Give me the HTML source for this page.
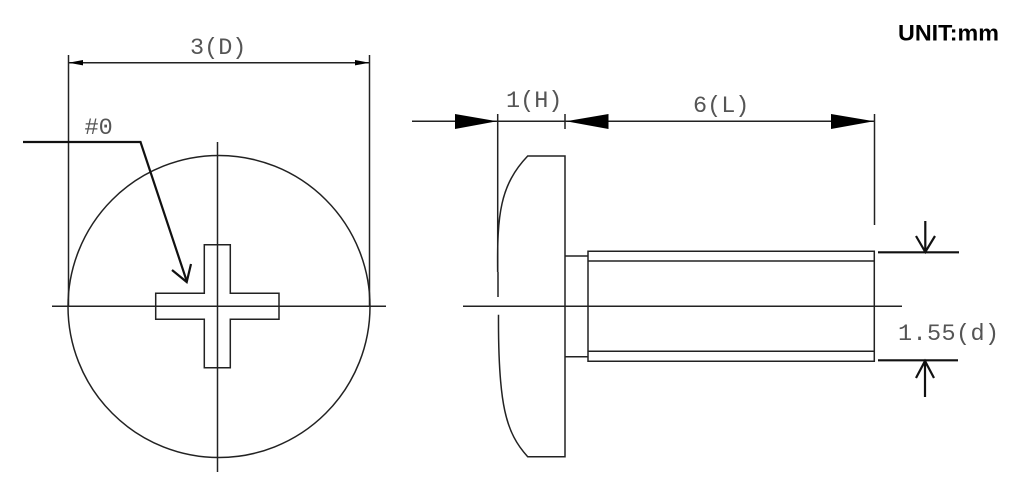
<!DOCTYPE html>
<html>
<head>
<meta charset="utf-8">
<style>
html,body{margin:0;padding:0;background:#fff;width:1024px;height:489px;overflow:hidden}
svg{display:block}
.m{font-family:"Liberation Mono",monospace;font-size:23.5px;fill:#555}
</style>
</head>
<body>
<svg width="1024" height="489" viewBox="0 0 1024 489" xmlns="http://www.w3.org/2000/svg">
<rect width="1024" height="489" fill="#fff"/>
<g fill="none" stroke="#222" stroke-width="1.5">
<circle cx="219" cy="306.5" r="151"/>
<path d="M52 306.3H386M217.5 142V472"/>
<path d="M155.7 293.3H204.3V244.7H230.3V293.3H279V319.3H230.3V367.7H204.3V319.3H155.7Z"/>
<path d="M68.5 55V306M369.5 55V306M68.5 62.7H369.5"/>
<path d="M412 121.3H875M497.7 114V272M565 114V129M874.5 114V225"/>
<path d="M497.700 272C497 215 500 185 527.700 156H565V456.700H527.700C506 433 498 405 498.500 314.700"/>
<path d="M498 272V297"/>
<path d="M463 306.3H902"/>
<path d="M565 256H588M565 356.7H588M588 251.3H874.3V361.3H588ZM588 261H874.3M588 351.3H874.3"/>
</g>
<g fill="#000">
<path d="M68.5 62.7L83 60V65.4ZM369.5 62.7L355 60V65.4Z"/>
<path d="M497 121.3L455 114V129ZM566 121.3L608.500 114V129ZM874 121.3L831 114V129Z"/>
</g>
<g fill="none" stroke="#111" stroke-width="2.2">
<path d="M23 142H140.500L186.700 281"/>
<path d="M172 270L186.700 282L191 264"/>
<path d="M878 252.300H959M925.300 221V252M916 236L925.300 252L935 236"/>
<path d="M878 360.300H958M925 397V361M916 378L925 361L934 378"/>
</g>
<text class="m" x="190" y="54">3(D)</text>
<text class="m" x="84.500" y="134">#0</text>
<text class="m" x="506" y="107">1(H)</text>
<text class="m" x="693" y="112">6(L)</text>
<text class="m" x="898" y="340" letter-spacing="0.400">1.55(d)</text>
<text x="898" y="40.500" font-family="Liberation Sans, sans-serif" font-weight="700" font-size="22.500" textLength="101" lengthAdjust="spacingAndGlyphs" fill="#000">UNIT:mm</text>
</svg>
</body>
</html>
